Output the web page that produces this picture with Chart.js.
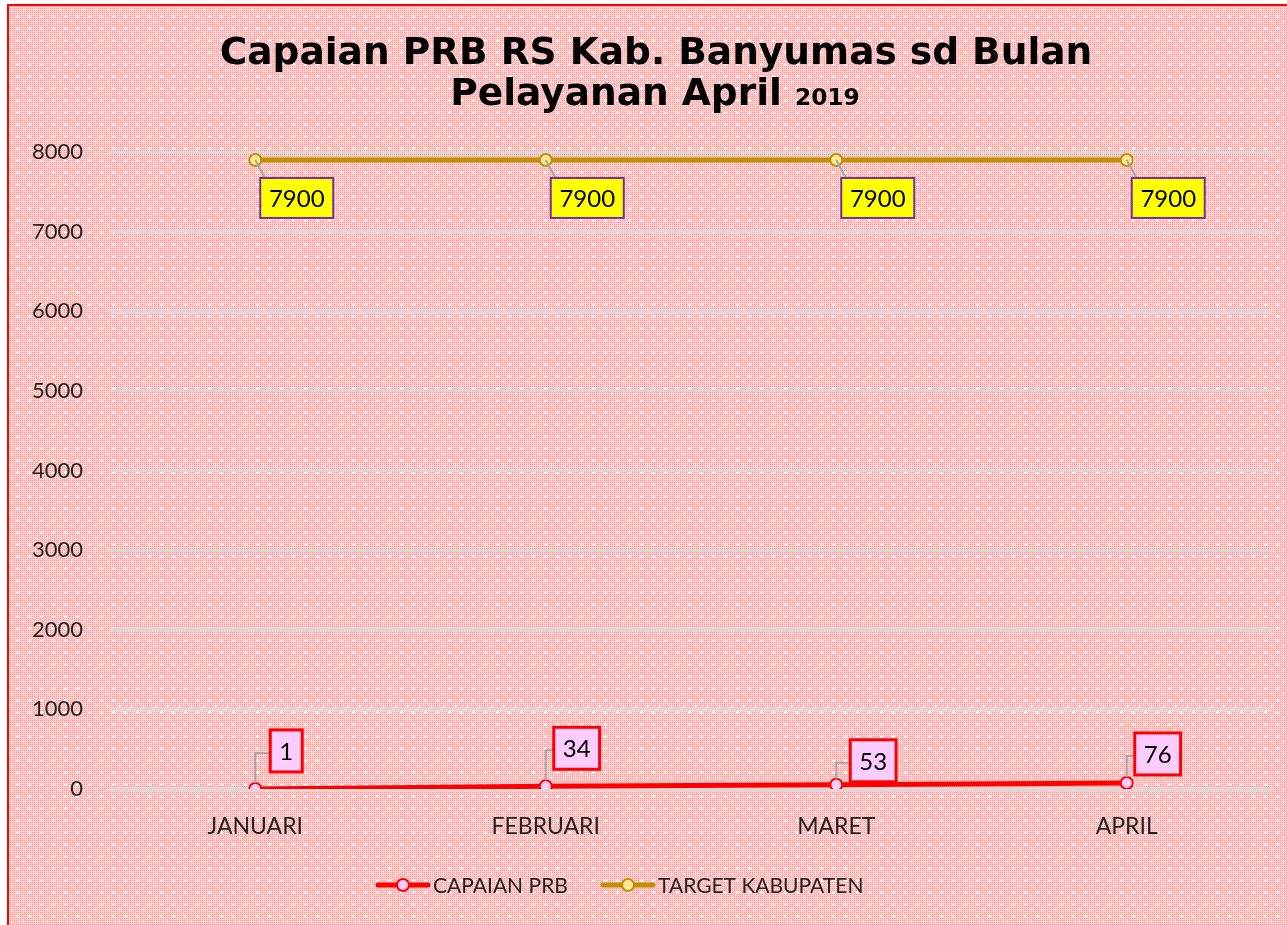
<!DOCTYPE html>
<html><head><meta charset="utf-8">
<script src="https://cdn.jsdelivr.net/npm/chart.js@4/dist/chart.umd.min.js"></script>
<style>html,body{margin:0;padding:0;background:#fff}#wrap{width:1287px;height:925px;position:relative}</style>
</head><body><div id="wrap"><canvas id="c" width="1287" height="925"></canvas></div>
<script>
const categories = ['JANUARI','FEBRUARI','MARET','APRIL'];
const capaianPRB = [1, 34, 53, 76];
const targetKabupaten = [7900, 7900, 7900, 7900];
const yTicks = [0,1000,2000,3000,4000,5000,6000,7000,8000];
const seriesNames = ['CAPAIAN PRB','TARGET KABUPATEN'];
const titleLine1 = 'Capaian PRB RS Kab. Banyumas sd Bulan';
const titleLine2a = 'Pelayanan April ';
const titleLine2b = '2019';

const FONT = 'Lato, "Open Sans", sans-serif';
const TFONT = '"DejaVu Sans", sans-serif';

function makePattern(ctx){
  const t = document.createElement('canvas'); t.width=12; t.height=12;
  const g = t.getContext('2d');
  for(let y=0;y<12;y++)for(let x=0;x<12;x++){
    g.fillStyle = (x%2===0 && y%2===0) ? '#ff9a9a' : ((x+y)%2===0 ? '#ffc4c4' : '#ffd2d2');
    g.fillRect(x,y,1,1);
  }
  g.fillStyle='#ffffff';
  g.fillRect(5,3,1,3); g.fillRect(4,4,3,1);
  g.fillRect(11,9,1,2); g.fillRect(0,9,1,1);
  return ctx.createPattern(t,'repeat');
}

const bgPlugin = {
  id:'bg',
  beforeDraw(chart){
    const ctx = chart.ctx;
    ctx.save();
    ctx.fillStyle='#ffffff'; ctx.fillRect(0,0,chart.width,chart.height);
    ctx.fillStyle = makePattern(ctx);
    ctx.fillRect(8,5,chart.width-8,chart.height-5);
    ctx.strokeStyle='#ff0000'; ctx.lineWidth=2;
    ctx.beginPath(); ctx.moveTo(8,chart.height); ctx.lineTo(8,5); ctx.lineTo(chart.width,5); ctx.stroke();
    ctx.fillStyle='#000'; ctx.textAlign='left'; ctx.textBaseline='alphabetic';
    let fs=40; ctx.font='bold '+fs+'px '+TFONT;
    let w = ctx.measureText(titleLine1).width;
    fs = fs*873/w; ctx.font='bold '+fs+'px '+TFONT;
    w = ctx.measureText(titleLine1).width;
    ctx.fillText(titleLine1, 656-w/2, 64);
    ctx.font='bold '+fs+'px '+TFONT;
    const wa = ctx.measureText(titleLine2a).width;
    ctx.font='bold '+(fs*0.62)+'px '+TFONT;
    const wb = ctx.measureText(titleLine2b).width;
    const x0 = 655-(wa+wb)/2;
    ctx.font='bold '+fs+'px '+TFONT;
    ctx.fillText(titleLine2a, x0, 105);
    ctx.font='bold '+(fs*0.62)+'px '+TFONT;
    ctx.fillText(titleLine2b, x0+wa, 105);
    ctx.restore();
  }
};

const labelPlugin = {
  id:'labels',
  afterDatasetsDraw(chart){
    const ctx = chart.ctx;
    ctx.save();
    ctx.font = '24px '+FONT;
    ctx.textAlign='center'; ctx.textBaseline='middle';
    const m1 = chart.getDatasetMeta(1);
    m1.data.forEach((p,i)=>{
      const txt = String(targetKabupaten[i]);
      const bw = 73, bh = 40;
      const bx = p.x+5, by = p.y+18;
      ctx.strokeStyle='#a6a6a6'; ctx.lineWidth=2;
      ctx.beginPath(); ctx.moveTo(p.x,p.y); ctx.lineTo(bx+8,by+6); ctx.stroke();
      ctx.fillStyle='#ffff00'; ctx.fillRect(bx,by,bw,bh);
      ctx.strokeStyle='#7030a0'; ctx.lineWidth=2; ctx.strokeRect(bx,by,bw,bh);
      ctx.fillStyle='#000'; ctx.fillText(txt, bx+bw/2, by+bh/2+1);
    });
    const m0 = chart.getDatasetMeta(0);
    const offs = [[15,-59],[8,-59],[14,-45],[8,-50]];
    m0.data.forEach((p,i)=>{
      const txt = String(capaianPRB[i]);
      const tw = ctx.measureText(txt).width;
      const bw = Math.max(32, tw+18), bh = 42;
      const bx = p.x+offs[i][0], by = p.y+offs[i][1];
      ctx.strokeStyle='#a6a6a6'; ctx.lineWidth=2;
      ctx.beginPath(); ctx.moveTo(p.x,p.y-6); ctx.lineTo(p.x, by+bh/2+2); ctx.lineTo(bx, by+bh/2+2); ctx.stroke();
      ctx.fillStyle='#ffccff'; ctx.fillRect(bx,by,bw,bh);
      ctx.strokeStyle='#ff0000'; ctx.lineWidth=3; ctx.strokeRect(bx,by,bw,bh);
      ctx.fillStyle='#000'; ctx.fillText(txt, bx+bw/2, by+bh/2+1);
    });
    const ly = 885;
    const items = [
      {x:378, name:seriesNames[0], line:'#ff0000', fill:'#ffccff', border:'#ff0000'},
      {x:603, name:seriesNames[1], line:'#bf9000', fill:'#ffe699', border:'#bf9000'}
    ];
    items.forEach(it=>{
      ctx.strokeStyle=it.line; ctx.lineWidth=5; ctx.lineCap='round';
      ctx.beginPath(); ctx.moveTo(it.x,ly); ctx.lineTo(it.x+50,ly); ctx.stroke();
      ctx.beginPath(); ctx.arc(it.x+25,ly,6,0,Math.PI*2);
      ctx.fillStyle=it.fill; ctx.fill(); ctx.lineWidth=2; ctx.strokeStyle=it.border; ctx.stroke();
      ctx.fillStyle='#222'; ctx.textAlign='left'; ctx.font='21px '+FONT;
      ctx.fillText(it.name, it.x+55, ly+1);
    });
    ctx.restore();
  }
};

new Chart(document.getElementById('c'), {
  type:'line',
  data:{
    labels:categories,
    datasets:[
      {label:seriesNames[0], data:capaianPRB, borderColor:'#ff0000', borderWidth:5,
       pointRadius:6, pointBackgroundColor:'#ffccff', pointBorderColor:'#ff0000', pointBorderWidth:2, tension:0},
      {label:seriesNames[1], data:targetKabupaten, borderColor:'#bf9000', borderWidth:5,
       pointRadius:6, pointBackgroundColor:'#ffe699', pointBorderColor:'#bf9000', pointBorderWidth:2, tension:0}
    ]
  },
  options:{
    responsive:false, animation:false,
    layout:{padding:{left:10,right:15,top:152,bottom:76}},
    plugins:{legend:{display:false}, title:{display:false}, tooltip:{enabled:false}},
    scales:{
      x:{offset:true, grid:{display:false, drawTicks:false}, border:{display:false},
         ticks:{font:{size:23,family:FONT}, color:'#222', padding:24},
         afterFit(s){ s.height=60; }},
      y:{min:0, max:8000, afterBuildTicks(s){ s.ticks = yTicks.map(v=>({value:v})); },
         grid:{color:'#d9d9d9', lineWidth:3, drawTicks:false}, border:{display:false},
         ticks:{font:{size:22,family:FONT}, color:'#222', padding:27, callback:v=>String(v)},
         afterFit(s){ s.width=100; }}
    }
  },
  plugins:[bgPlugin, labelPlugin]
});
</script></body></html>
